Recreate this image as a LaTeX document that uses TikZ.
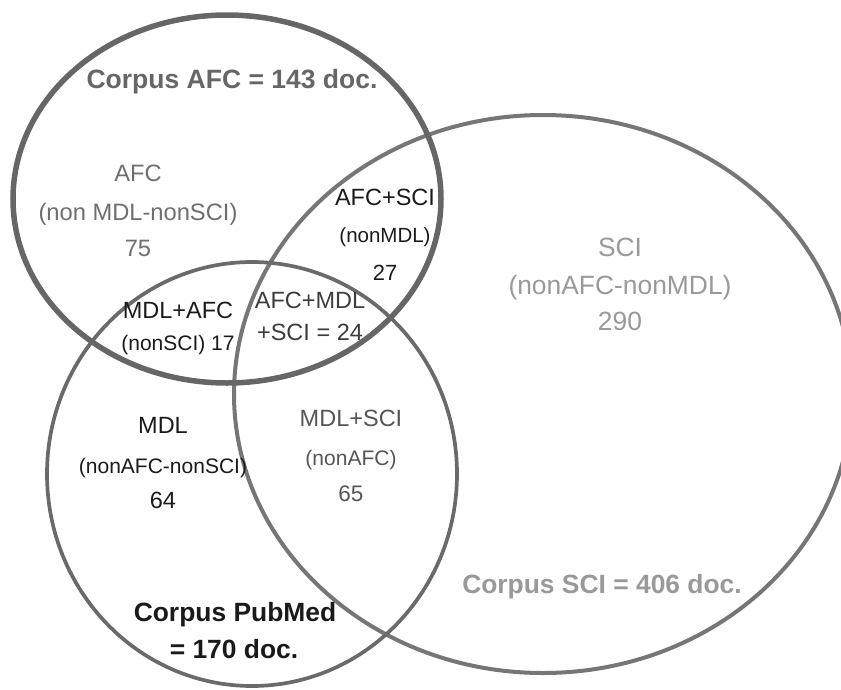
\documentclass[tikz,border=0pt]{standalone}
\usepackage{fontspec}
\setmainfont{Liberation Sans}
\definecolor{afcline}{HTML}{666666}
\definecolor{publine}{HTML}{6A6A6A}
\definecolor{sciline}{HTML}{767676}
\definecolor{afctext}{HTML}{6E6E6E}
\definecolor{darktext}{HTML}{1A1A1A}
\definecolor{midtext}{HTML}{3C3C3C}
\definecolor{mstext}{HTML}{555555}
\definecolor{scitext}{HTML}{999999}
\begin{document}
\begin{tikzpicture}[x=1pt,y=-1pt,
  lbl/.style={inner sep=0pt, text height=0.716em, text depth=0pt, font=\fontsize{#1}{#1}\selectfont},
  blbl/.style={inner sep=0pt, text height=0.716em, text depth=0pt, font=\bfseries\fontsize{#1}{#1}\selectfont}]
\useasboundingbox (0,0) rectangle (841,689);
\clip (0,0) rectangle (841,689);
% ellipses
\draw[line width=4pt, sciline] (543,394) ellipse [x radius=309pt, y radius=279pt];
\draw[line width=3.7pt, publine] (252,474) ellipse [x radius=205pt, y radius=212pt];
\draw[line width=5.5pt, afcline] (227,199) ellipse [x radius=214pt, y radius=184pt];
% AFC corpus
\node[blbl=26.5, afcline] (cafc) at (232,85) {Corpus AFC = 143 doc.};
\node[lbl=23.7, afctext] (afc1) at (138,178) {AFC};
\node[lbl=23.7, afctext] (afc2) at (138,217) {(non MDL-nonSCI)};
\node[lbl=23.7, afctext] (afc3) at (138,253) {75};
% AFC+SCI
\node[lbl=23.5, darktext] (as1) at (385,202) {AFC+SCI};
\node[lbl=20.5, darktext] (as2) at (385,239) {(nonMDL)};
\node[lbl=22, darktext] (as3) at (385,277) {27};
% MDL+AFC
\node[lbl=23.5, darktext] (ma1) at (178,315) {MDL+AFC};
\node[lbl=21, darktext] (ma2) at (178,347) {(nonSCI) 17};
% AFC+MDL+SCI
\node[lbl=23.5, midtext] (ams1) at (310,305) {AFC+MDL};
\node[lbl=23.5, midtext] (ams2) at (310,337) {+SCI = 24};
% MDL
\node[lbl=23.5, darktext] (m1) at (163,430) {MDL};
\node[lbl=21, darktext] (m2) at (163,470) {(nonAFC-nonSCI)};
\node[lbl=23.5, darktext] (m3) at (163,505) {64};
% MDL+SCI
\node[lbl=23.5, mstext] (ms1) at (351,423) {MDL+SCI};
\node[lbl=21, mstext] (ms2) at (351,462) {(nonAFC)};
\node[lbl=22.5, mstext] (ms3) at (351,498) {65};
% SCI
\node[lbl=26.4, scitext] (s1) at (620,253) {SCI};
\node[lbl=26.4, scitext] (s2) at (620,291) {(nonAFC-nonMDL)};
\node[lbl=26.4, scitext] (s3) at (620,327) {290};
\node[blbl=26.4, scitext] (csci) at (602,590) {Corpus SCI = 406 doc.};
% PubMed corpus
\node[blbl=26.4, darktext] (cpub1) at (235,618) {Corpus PubMed};
\node[blbl=26.4, darktext] (cpub2) at (234,655) {= 170 doc.};
\end{tikzpicture}
\end{document}
